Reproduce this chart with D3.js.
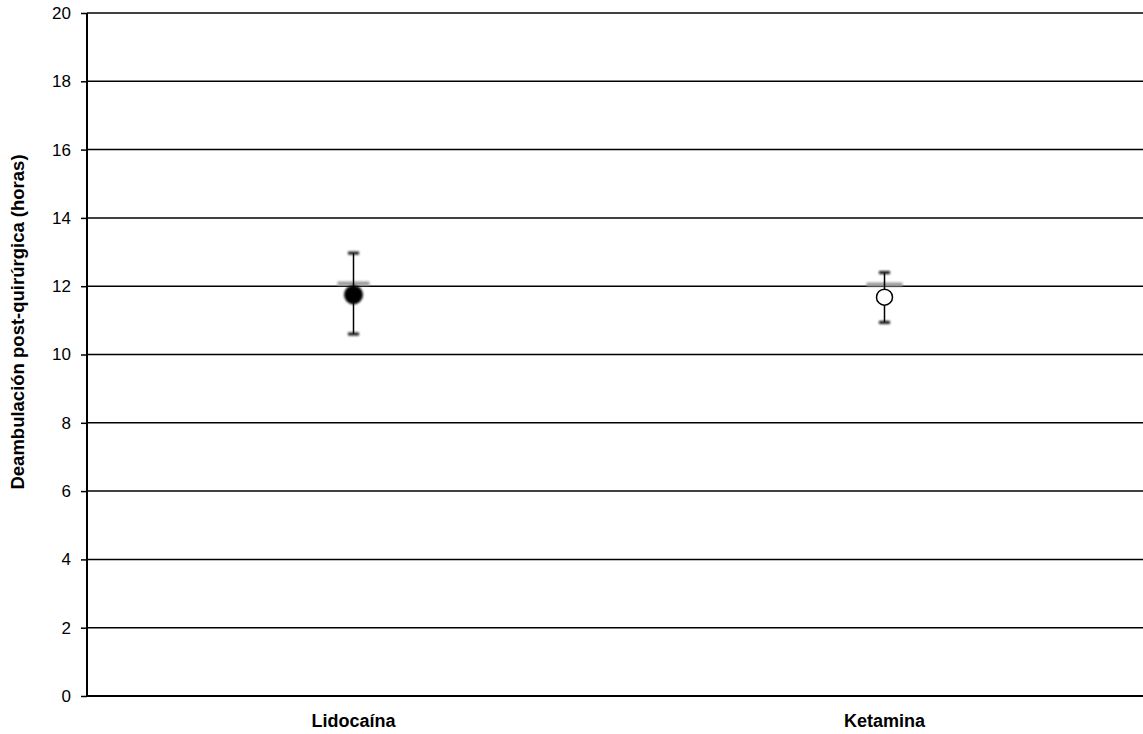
<!DOCTYPE html>
<html>
<head>
<meta charset="utf-8">
<script src="https://cdn.jsdelivr.net/npm/d3@7"></script>
<style>
  body { margin: 0; background: #fff; }
  svg { display: block; font-family: "Liberation Sans", Arial, sans-serif; }
</style>
</head>
<body>
<svg id="chart" width="1143" height="734"></svg>
<script>
// Post-operative ambulation time by anaesthetic group
const groups = ["Lidocaína", "Ketamina"];
const means = [11.75, 11.68];
const upper = [12.97, 12.40];
const lower = [10.60, 10.94];
const medians = [12.08, 12.05];
const yTicks = [0, 2, 4, 6, 8, 10, 12, 14, 16, 18, 20];

const svg = d3.select("#chart");
const margin = { left: 87, right: 0, top: 13, bottom: 38 };
const W = 1143, H = 734;
const FONT = "'Liberation Sans', Arial, sans-serif";

const x = d3.scalePoint().domain(groups).range([margin.left + 1, W + 7]).padding(0.5);
const y = d3.scaleLinear().domain([0, 20]).range([H - margin.bottom, margin.top]);

const defs = svg.append("defs");
defs.append("filter").attr("id", "soft")
  .attr("filterUnits", "userSpaceOnUse")
  .attr("x", 0).attr("y", 0).attr("width", W).attr("height", H)
  .append("feGaussianBlur").attr("stdDeviation", 0.9);

// horizontal gridlines
svg.append("g").selectAll("line").data(yTicks.filter(d => d > 0)).join("line")
  .attr("x1", margin.left).attr("x2", W)
  .attr("y1", d => y(d)).attr("y2", d => y(d))
  .attr("stroke", "#000").attr("stroke-width", 1.5);

// y axis
const yAxis = svg.append("g").attr("transform", `translate(${margin.left},0)`)
  .call(d3.axisLeft(y).tickValues(yTicks).tickSize(6).tickPadding(10));
yAxis.attr("font-size", null).attr("font-family", null);
yAxis.select(".domain").attr("stroke", "#000").attr("stroke-width", 2).attr("d", `M0,${y(20)}V${y(0)}`);
yAxis.selectAll(".tick line").attr("stroke", "#000").attr("stroke-width", 1.5);
yAxis.selectAll(".tick text").attr("font-size", 17).attr("fill", "#000")
  .style("font-family", FONT);

// x baseline
svg.append("line").attr("x1", margin.left).attr("x2", W)
  .attr("y1", y(0)).attr("y2", y(0)).attr("stroke", "#000").attr("stroke-width", 2);

// x category labels
svg.append("g").selectAll("text").data(groups).join("text")
  .attr("x", d => x(d)).attr("y", 727)
  .attr("text-anchor", "middle").attr("font-size", 18).attr("font-weight", "bold")
  .text(d => d);

// y axis title
svg.append("text")
  .attr("transform", `translate(24,${322}) rotate(-90)`)
  .attr("text-anchor", "middle").attr("font-size", 18.5).attr("font-weight", "bold")
  .text("Deambulación post-quirúrgica (horas)");

// median markers (grey dash)
svg.append("g").selectAll("rect").data(groups).join("rect")
  .attr("x", (d, i) => x(d) - (i === 0 ? 16 : 18))
  .attr("width", (d, i) => i === 0 ? 32 : 36)
  .attr("y", (d, i) => y(medians[i]) - 2).attr("height", 4)
  .attr("fill", "#999").attr("filter", "url(#soft)");

// error bars
const eb = svg.append("g").selectAll("g").data(groups).join("g");
eb.append("line")
  .attr("x1", d => x(d)).attr("x2", d => x(d))
  .attr("y1", (d, i) => y(upper[i])).attr("y2", (d, i) => y(lower[i]))
  .attr("stroke", "#000").attr("stroke-width", 1.5);
eb.append("rect")
  .attr("x", d => x(d) - 5.5).attr("width", 11)
  .attr("y", (d, i) => y(upper[i]) - 1.5).attr("height", 3)
  .attr("fill", "#111").attr("filter", "url(#soft)");
eb.append("rect")
  .attr("x", d => x(d) - 5.5).attr("width", 11)
  .attr("y", (d, i) => y(lower[i]) - 1.5).attr("height", 3)
  .attr("fill", "#111").attr("filter", "url(#soft)");

// mean markers
svg.append("circle")
  .attr("cx", x(groups[0])).attr("cy", y(means[0])).attr("r", 9.5)
  .attr("fill", "#000").attr("filter", "url(#soft)");
svg.append("circle")
  .attr("cx", x(groups[1])).attr("cy", y(means[1])).attr("r", 8)
  .attr("fill", "#fff").attr("stroke", "#000").attr("stroke-width", 1.5);
</script>
</body>
</html>
